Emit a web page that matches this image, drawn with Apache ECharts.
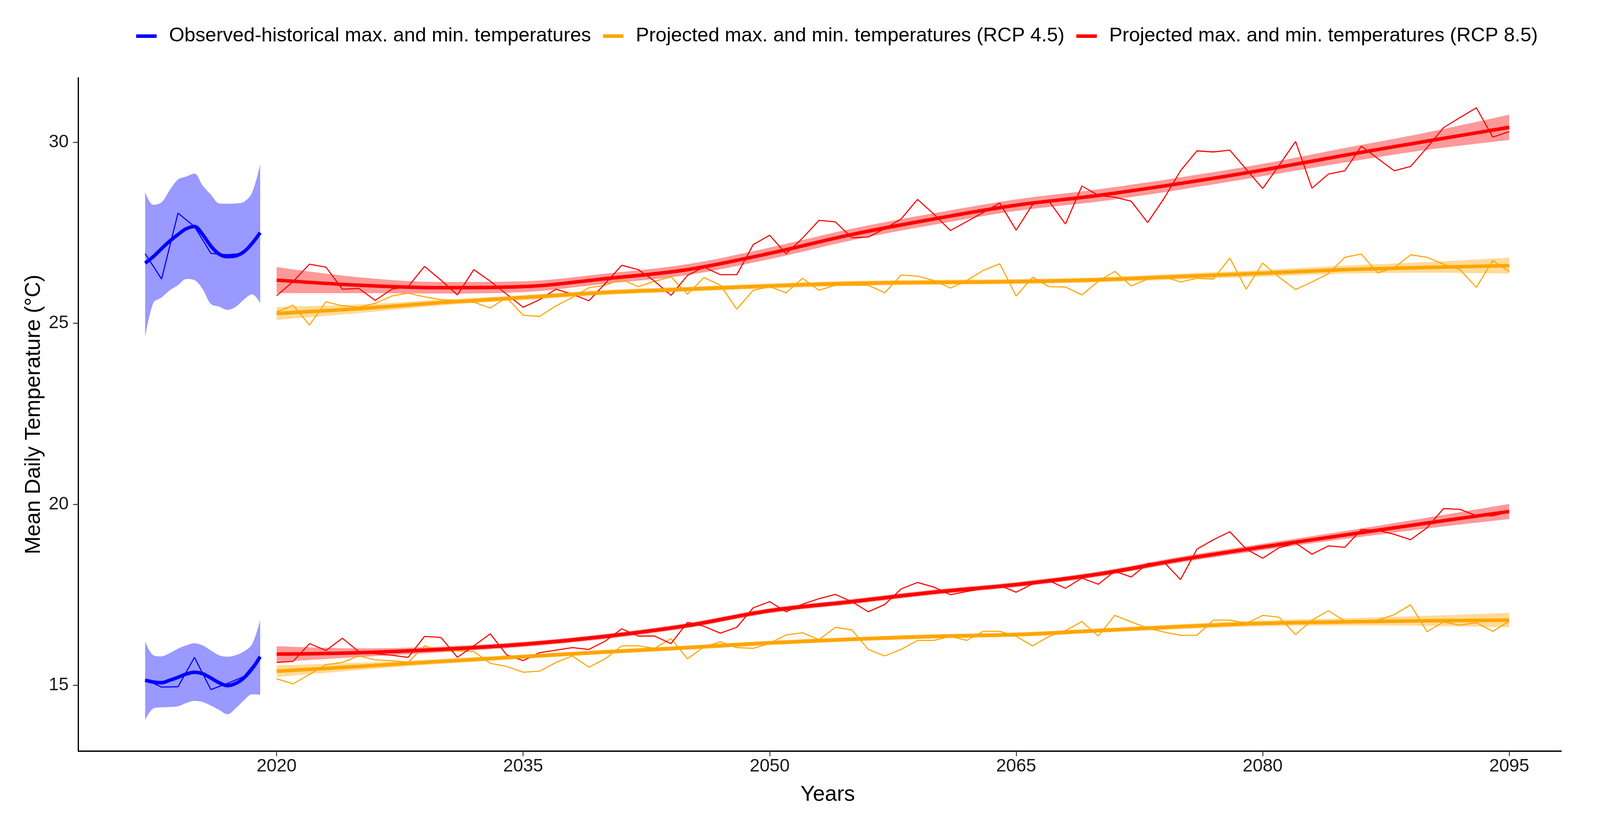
<!DOCTYPE html>
<html>
<head>
<meta charset="utf-8">
<script src="https://cdn.jsdelivr.net/npm/echarts@6/dist/echarts.min.js"></script>
<style>
  html, body { margin: 0; padding: 0; background: #ffffff; overflow: hidden; }
  #chart { width: 100vw; height: 100vh; }
</style>
</head>
<body>
<div id="chart"></div>
<script>
// ---------------- DATA ----------------
const legendNames = [
  'Observed-historical max. and min. temperatures',
  'Projected max. and min. temperatures (RCP 4.5)',
  'Projected max. and min. temperatures (RCP 8.5)'
];
const xTicks = [2020, 2035, 2050, 2065, 2080, 2095];
const yTicks = [15, 20, 25, 30];

// observed (historical) yearly values
const obsYears = [2012, 2013, 2014, 2015, 2016, 2017, 2018, 2019];
const obsMax = [26.92, 26.22, 28.04, 27.67, 26.93, 26.89, 26.93, 27.50];
const obsMin = [15.16, 14.95, 14.96, 15.77, 14.88, 15.05, 15.24, 15.79];

// observed loess fit + confidence band, read every half year
const obsFitYears = [2012, 2012.5, 2013, 2013.5, 2014, 2014.5, 2015, 2015.5, 2016, 2016.5, 2017, 2017.5, 2018, 2018.5, 2019];
const obsMaxFit = [26.66, 26.84, 27.06, 27.27, 27.45, 27.61, 27.67, 27.45, 27.13, 26.91, 26.84, 26.86, 26.97, 27.20, 27.50];
const obsMaxLo  = [24.61, 25.56, 25.71, 25.91, 26.05, 26.22, 26.19, 25.94, 25.53, 25.46, 25.37, 25.45, 25.65, 25.80, 25.56];
const obsMaxHi  = [28.62, 28.27, 28.34, 28.68, 28.97, 29.05, 29.13, 28.80, 28.55, 28.31, 28.30, 28.31, 28.35, 28.60, 29.39];
const obsMinFit = [15.14, 15.09, 15.07, 15.14, 15.22, 15.31, 15.36, 15.32, 15.20, 15.07, 14.99, 15.05, 15.20, 15.45, 15.79];
const obsMinLo  = [14.04, 14.36, 14.39, 14.40, 14.42, 14.51, 14.57, 14.54, 14.44, 14.32, 14.20, 14.36, 14.58, 14.75, 14.74];
const obsMinHi  = [16.21, 15.83, 15.80, 15.89, 16.01, 16.10, 16.16, 16.10, 15.96, 15.83, 15.79, 15.83, 15.93, 16.13, 16.80];

// projected yearly values 2020..2095
const projYears = [
  2020, 2021, 2022, 2023, 2024, 2025, 2026, 2027, 2028, 2029,
  2030, 2031, 2032, 2033, 2034, 2035, 2036, 2037, 2038, 2039,
  2040, 2041, 2042, 2043, 2044, 2045, 2046, 2047, 2048, 2049,
  2050, 2051, 2052, 2053, 2054, 2055, 2056, 2057, 2058, 2059,
  2060, 2061, 2062, 2063, 2064, 2065, 2066, 2067, 2068, 2069,
  2070, 2071, 2072, 2073, 2074, 2075, 2076, 2077, 2078, 2079,
  2080, 2081, 2082, 2083, 2084, 2085, 2086, 2087, 2088, 2089,
  2090, 2091, 2092, 2093, 2094, 2095
];
const rcp85Max = [
  25.76, 26.15, 26.63, 26.55, 25.94, 25.96, 25.63, 25.94, 26.01, 26.57,
  26.19, 25.78, 26.48, 26.16, 25.80, 25.44, 25.65, 25.94, 25.80, 25.62,
  26.10, 26.60, 26.48, 26.16, 25.77, 26.32, 26.55, 26.34, 26.34, 27.17,
  27.43, 26.92, 27.35, 27.84, 27.80, 27.36, 27.38, 27.61, 27.88, 28.42,
  28.01, 27.56, 27.81, 28.06, 28.32, 27.57, 28.28, 28.37, 27.74, 28.79,
  28.53, 28.48, 28.37, 27.78, 28.45, 29.21, 29.76, 29.73, 29.78, 29.25,
  28.72, 29.36, 30.02, 28.73, 29.12, 29.21, 29.89, 29.55, 29.21, 29.33,
  29.85, 30.40, 30.68, 30.95, 30.14, 30.29
];
const rcp45Max = [
  25.31, 25.50, 24.95, 25.59, 25.48, 25.44, 25.55, 25.75, 25.83, 25.73,
  25.65, 25.62, 25.58, 25.42, 25.71, 25.22, 25.19, 25.48, 25.71, 25.98,
  26.05, 26.21, 26.01, 26.16, 26.28, 25.80, 26.26, 26.05, 25.39, 25.91,
  26.01, 25.84, 26.24, 25.91, 26.05, 26.05, 26.05, 25.84, 26.33, 26.30,
  26.18, 25.97, 26.18, 26.46, 26.64, 25.75, 26.27, 26.01, 26.00, 25.78,
  26.16, 26.43, 26.03, 26.22, 26.28, 26.14, 26.24, 26.22, 26.80, 25.94,
  26.66, 26.27, 25.93, 26.14, 26.37, 26.82, 26.91, 26.39, 26.53, 26.89,
  26.82, 26.63, 26.48, 25.99, 26.73, 26.43
];
const rcp85Min = [
  15.63, 15.66, 16.15, 15.96, 16.30, 15.93, 15.87, 15.83, 15.77, 16.35,
  16.32, 15.77, 16.09, 16.42, 15.84, 15.68, 15.90, 15.97, 16.04, 15.99,
  16.22, 16.56, 16.36, 16.36, 16.15, 16.74, 16.63, 16.44, 16.60, 17.14,
  17.31, 17.03, 17.24, 17.39, 17.51, 17.31, 17.03, 17.23, 17.66, 17.84,
  17.71, 17.50, 17.59, 17.67, 17.76, 17.57, 17.80, 17.89, 17.68, 17.96,
  17.79, 18.15, 17.99, 18.36, 18.40, 17.92, 18.76, 19.02, 19.24, 18.76,
  18.51, 18.80, 18.93, 18.62, 18.85, 18.81, 19.30, 19.28, 19.17, 19.02,
  19.35, 19.88, 19.86, 19.68, 19.68, 19.79
];
const rcp45Min = [
  15.18, 15.04, 15.30, 15.57, 15.63, 15.81, 15.70, 15.68, 15.63, 16.09,
  15.95, 15.95, 15.93, 15.61, 15.52, 15.36, 15.39, 15.63, 15.81, 15.50,
  15.73, 16.09, 16.09, 16.02, 16.29, 15.73, 16.06, 16.20, 16.04, 16.02,
  16.16, 16.39, 16.45, 16.26, 16.60, 16.53, 15.99, 15.81, 15.99, 16.24,
  16.24, 16.35, 16.24, 16.49, 16.49, 16.35, 16.09, 16.35, 16.51, 16.76,
  16.36, 16.93, 16.75, 16.58, 16.47, 16.38, 16.38, 16.80, 16.80, 16.71,
  16.93, 16.88, 16.40, 16.80, 17.06, 16.77, 16.74, 16.80, 16.95, 17.22,
  16.48, 16.75, 16.66, 16.73, 16.49, 16.77
];

// projected loess fits + confidence bands, read every 5 years
const fitYears = [2020, 2025, 2030, 2035, 2040, 2045, 2050, 2055, 2060, 2065, 2070, 2075, 2080, 2085, 2090, 2095];
const rcp85MaxFit = [26.19, 26.05, 25.98, 26.01, 26.23, 26.48, 26.93, 27.45, 27.88, 28.26, 28.53, 28.86, 29.23, 29.64, 30.03, 30.41];
const rcp85MaxLo  = [25.83, 25.83, 25.82, 25.86, 26.09, 26.33, 26.77, 27.29, 27.72, 28.10, 28.36, 28.69, 29.06, 29.44, 29.79, 30.06];
const rcp85MaxHi  = [26.55, 26.27, 26.14, 26.16, 26.37, 26.63, 27.09, 27.61, 28.04, 28.42, 28.70, 29.03, 29.40, 29.84, 30.27, 30.76];
const rcp45MaxFit = [25.27, 25.40, 25.57, 25.71, 25.85, 25.94, 26.03, 26.10, 26.13, 26.15, 26.20, 26.29, 26.38, 26.48, 26.54, 26.59];
const rcp45MaxLo  = [25.09, 25.28, 25.49, 25.64, 25.78, 25.87, 25.96, 26.03, 26.06, 26.08, 26.13, 26.21, 26.29, 26.37, 26.39, 26.37];
const rcp45MaxHi  = [25.45, 25.52, 25.65, 25.78, 25.92, 26.01, 26.10, 26.17, 26.20, 26.22, 26.27, 26.37, 26.47, 26.59, 26.69, 26.81];
const rcp85MinFit = [15.86, 15.90, 15.99, 16.13, 16.35, 16.65, 17.06, 17.31, 17.57, 17.78, 18.07, 18.47, 18.82, 19.15, 19.48, 19.80];
const rcp85MinLo  = [15.64, 15.78, 15.91, 16.06, 16.28, 16.58, 16.99, 17.24, 17.50, 17.71, 18.00, 18.39, 18.73, 19.04, 19.33, 19.59];
const rcp85MinHi  = [16.08, 16.02, 16.07, 16.20, 16.42, 16.72, 17.13, 17.38, 17.64, 17.85, 18.14, 18.55, 18.91, 19.26, 19.63, 20.01];
const rcp45MinFit = [15.39, 15.52, 15.66, 15.79, 15.92, 16.04, 16.17, 16.27, 16.35, 16.40, 16.51, 16.62, 16.71, 16.75, 16.78, 16.80];
const rcp45MinLo  = [15.23, 15.42, 15.59, 15.73, 15.86, 15.98, 16.11, 16.21, 16.29, 16.34, 16.45, 16.55, 16.63, 16.65, 16.64, 16.60];
const rcp45MinHi  = [15.55, 15.62, 15.73, 15.85, 15.98, 16.10, 16.23, 16.33, 16.41, 16.46, 16.57, 16.69, 16.79, 16.85, 16.92, 17.00];

// ---------------- STYLE ----------------
const FONT = 'Liberation Sans, Arial, Helvetica, sans-serif';
const C_BLUE = '#0000FF', C_ORANGE = '#FFA500', C_RED = '#FF0000';

const el = document.getElementById('chart');
const W = el.clientWidth || window.innerWidth;
const H = el.clientHeight || window.innerHeight;
const sx = W / 4448, sy = H / 2112, s = Math.min(sx, sy);

// value-first pairs: dim0 = temperature (stackable), dim1 = year
function pairs(xs, ys) { return xs.map((x, i) => [ys[i], x]); }
const ENC = { x: 1, y: 0 };

function ribbon(id, xs, lo, hi, color) {
  return [
    {
      type: 'line', name: id + '_lo', stack: id, data: pairs(xs, lo), encode: ENC,
      symbol: 'none', smooth: 0.35, silent: true,
      lineStyle: { opacity: 0, width: 0 }, z: 1
    },
    {
      type: 'line', name: id + '_band', stack: id, data: xs.map((x, i) => [hi[i] - lo[i], x]), encode: ENC,
      symbol: 'none', smooth: 0.35, silent: true,
      lineStyle: { opacity: 0, width: 0 },
      areaStyle: { color: color, opacity: 0.4 }, z: 1
    }
  ];
}
function thin(id, xs, ys, color) {
  return {
    type: 'line', name: id, data: pairs(xs, ys), encode: ENC, symbol: 'none', silent: true,
    lineStyle: { color: color, width: 2.8 * sy }, z: 3
  };
}
function fit(name, xs, ys, color) {
  return {
    type: 'line', name: name, data: pairs(xs, ys), encode: ENC, symbol: 'none', smooth: 0.35,
    color: color, itemStyle: { color: color },
    lineStyle: { color: color, width: 9 * sy }, z: 4
  };
}

const series = [].concat(
  ribbon('obsMaxBand', obsFitYears, obsMaxLo, obsMaxHi, C_BLUE),
  ribbon('obsMinBand', obsFitYears, obsMinLo, obsMinHi, C_BLUE),
  ribbon('r45MaxBand', fitYears, rcp45MaxLo, rcp45MaxHi, C_ORANGE),
  ribbon('r45MinBand', fitYears, rcp45MinLo, rcp45MinHi, C_ORANGE),
  ribbon('r85MaxBand', fitYears, rcp85MaxLo, rcp85MaxHi, C_RED),
  ribbon('r85MinBand', fitYears, rcp85MinLo, rcp85MinHi, C_RED),
  [
    thin('obsMaxLine', obsYears, obsMax, C_BLUE),
    thin('obsMinLine', obsYears, obsMin, C_BLUE),
    thin('r45MaxLine', projYears, rcp45Max, C_ORANGE),
    thin('r45MinLine', projYears, rcp45Min, C_ORANGE),
    thin('r85MaxLine', projYears, rcp85Max, C_RED),
    thin('r85MinLine', projYears, rcp85Min, C_RED),
    fit(legendNames[0], obsFitYears, obsMaxFit, C_BLUE),
    fit(legendNames[0], obsFitYears, obsMinFit, C_BLUE),
    fit(legendNames[1], fitYears, rcp45MaxFit, C_ORANGE),
    fit(legendNames[1], fitYears, rcp45MinFit, C_ORANGE),
    fit(legendNames[2], fitYears, rcp85MaxFit, C_RED),
    fit(legendNames[2], fitYears, rcp85MinFit, C_RED)
  ]
);

const chart = echarts.init(el, null, { renderer: 'canvas', width: W, height: H });
chart.setOption({
  animation: false,
  backgroundColor: '#ffffff',
  legend: {
    data: legendNames,
    left: 373 * sx, top: 62 * sy,
    icon: 'rect', itemWidth: 57 * sx, itemHeight: 9 * sy, itemGap: 33 * sx,
    textStyle: { fontFamily: FONT, fontSize: 55 * s, color: '#000', padding: [0, 0, 0, 29 * sx] },
    selectedMode: false
  },
  grid: { left: 218 * sx, right: 108 * sx, top: 199 * sy, bottom: 189 * sy },
  xAxis: {
    type: 'value', min: 2007.94, max: 2098.16,
    name: 'Years', nameLocation: 'middle', nameGap: 84 * sy,
    nameTextStyle: { fontFamily: FONT, fontSize: 60 * s, color: '#000', padding: [0, 0, 0, 44 * sx] },
    axisLine: { show: true, lineStyle: { color: '#000', width: 3.5 * sy } },
    axisTick: { show: true, customValues: xTicks, length: 13 * sy, lineStyle: { color: '#333', width: 2.5 * sx } },
    axisLabel: { customValues: xTicks, fontFamily: FONT, fontSize: 50 * s, color: '#1a1a1a', margin: 16 * sy,
                 formatter: v => String(v) },
    splitLine: { show: false }
  },
  yAxis: {
    type: 'value', min: 13.18, max: 31.78,
    name: 'Mean Daily Temperature (°C)', nameLocation: 'middle', nameGap: 94 * sx, nameRotate: 90,
    nameTextStyle: { fontFamily: FONT, fontSize: 60 * s, color: '#000' },
    axisLine: { show: true, lineStyle: { color: '#000', width: 3.5 * sx } },
    axisTick: { show: true, customValues: yTicks, length: 15 * sx, lineStyle: { color: '#333', width: 2.5 * sy } },
    axisLabel: { customValues: yTicks, fontFamily: FONT, fontSize: 50 * s, color: '#1a1a1a', margin: 27 * sx,
                 formatter: v => String(v) },
    splitLine: { show: false }
  },
  series: series
});
</script>
</body>
</html>
